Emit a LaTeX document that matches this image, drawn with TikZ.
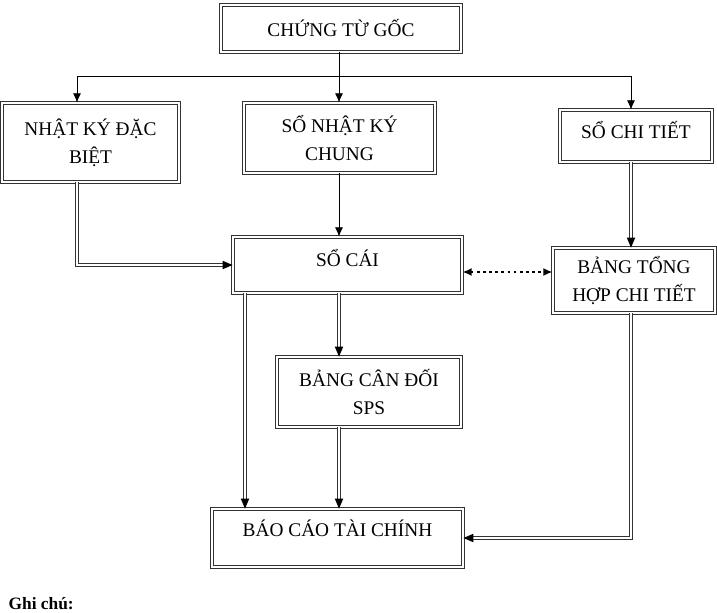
\documentclass[tikz,border=0pt]{standalone}
\usepackage{fontspec}
\setmainfont{Liberation Serif}
\usetikzlibrary{arrows.meta}
\usetikzlibrary{decorations.markings}
\usetikzlibrary{positioning}
\tikzset{>={Latex[length=7pt,width=6pt]}}
\tikzset{flow-box/.style={draw=black!80, line width=0.6pt, double, double distance=1.1pt, inner sep=0, align=center, font=\fontsize{14.5}{21}\selectfont}}
\tikzset{flow-line/.style={line width=0.6pt}}
\tikzset{flow-double/.style={draw=black!80, line width=0.6pt, double, double distance=1.2pt, shorten >=6pt,
    postaction={decorate, decoration={markings, mark=at position 1 with {\fill[black] (0pt,0pt) -- (-7.5pt,3.2pt) -- (-7.5pt,-3.2pt) -- cycle;}}}}}
\tikzset{flow-dotted/.style={line width=2pt, dash pattern=on 2pt off 2.6pt}}
\tikzset{text-up/.style={text height=10pt, text depth=#1}}

\begin{document}
\begin{tikzpicture}[x=0.75pt, y=-0.75pt]
    \useasboundingbox (0,0) rectangle (717,612);

    \node[flow-box, minimum width=180pt, minimum height=35.25pt] (ctg) at (341,28.5) {CHỨNG TỪ GỐC};

    \node[flow-box, minimum width=132.75pt, minimum height=59.25pt] (nkdb) at (90.5,142.5) {NHẬT KÝ ĐẶC\\BIỆT};
    \node[flow-box, minimum width=143.25pt, minimum height=52.5pt] (snkc) at (339.5,138) {SỔ NHẬT KÝ\\CHUNG};
    \node[flow-box, text-up=6.5pt, minimum width=114pt, minimum height=39pt] (sct) at (636,136) {SỔ CHI TIẾT};

    \node[flow-box, text-up=8pt, minimum width=171.75pt, minimum height=42pt] (socai) at (347.5,265) {SỔ CÁI};
    \node[flow-box, minimum width=121.5pt, minimum height=48.75pt] (bth) at (634,280.5) {BẢNG TỔNG\\HỢP CHI TIẾT};

    \node[flow-box, minimum width=138pt, minimum height=52.5pt] (sps) at (369,392) {BẢNG CÂN ĐỐI\\SPS};
    \node[flow-box, text-up=12.5pt, minimum width=188.25pt, minimum height=43.5pt] (bctc) at (337.5,538) {BÁO CÁO TÀI CHÍNH};

    \node[anchor=base west, font=\fontsize{13}{15}\selectfont\bfseries] (ghichu) at (4,609) {Ghi chú:};

    % columns the connectors run along
    \coordinate (colA) at (77,0);
    \coordinate (colB) at (339,0);
    \coordinate (colC) at (631,0);
    \coordinate (colD) at (245,0);
    \coordinate (split) at (339,76);
    \coordinate (dotrow) at (0,272);

    \draw[->, flow-line] (ctg.south -| colB) -- (snkc.north -| colB);
    \draw[->, flow-line] (split) -| (nkdb.north -| colA);
    \draw[->, flow-line] (split) -| (sct.north -| colC);

    \draw[flow-double] (nkdb.south -| colA) |- (socai.west);
    \draw[->, flow-line] (snkc.south -| colB) -- (socai.north -| colB);
    \draw[flow-double] (sct.south -| colC) -- (bth.north -| colC);

    \draw[<->, flow-dotted] (socai.east |- dotrow) -- (bth.west |- dotrow);

    \draw[flow-double] (socai.south -| colD) -- (bctc.north -| colD);
    \draw[flow-double] (socai.south -| colB) -- (sps.north -| colB);
    \draw[flow-double] (sps.south -| colB) -- (bctc.north -| colB);
    \draw[flow-double] (bth.south -| colC) |- (bctc.east);

\end{tikzpicture}
\end{document}
